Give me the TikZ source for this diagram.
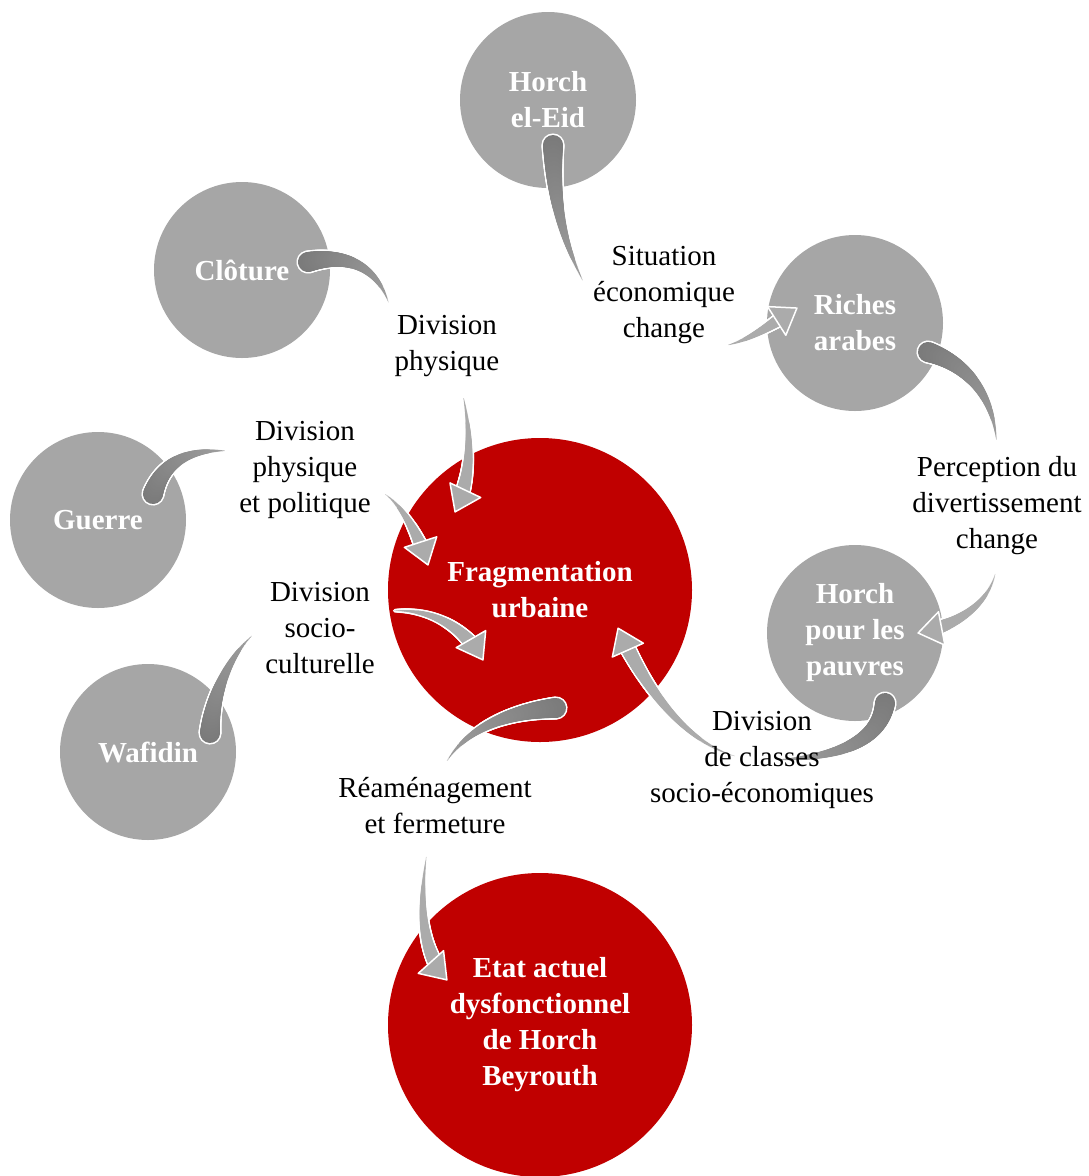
\documentclass[tikz,border=0pt]{standalone}
\usepackage{fontspec}
\setmainfont{Liberation Serif}
\usetikzlibrary{positioning,arrows.meta,decorations.markings}

\definecolor{bubgrey}{RGB}{166,166,166}
\definecolor{bubred}{RGB}{192,0,0}
\newcommand\bubfont{\fontsize{29}{36}\selectfont}

% one dot of a tapering shaft: #1 colour, #2 extra radius
\newcommand\taildot[2]{%
  \pgfmathsetmacro\fld{\pgfkeysvalueof{/pgf/decoration/mark info/distance from start}}%
  \pgfmathsetmacro\flt{\fld/\pgfdecoratedpathlength}%
  \pgfmathsetmacro\flrad{max(0,10*(1-\flt/0.92))}%
  \pgfmathsetmacro\flshade{52-16*\flt}%
  \ifdim\flrad pt>0.3pt
    \pgfmathsetmacro\flr{\flrad+#2}%
    \pgfpathcircle{\pgfpointorigin}{\flr pt}%
    \pgfsetfillcolor{#1}\pgfusepath{fill}%
  \fi}
\newcommand\headdot[2]{%
  \pgfmathsetmacro\fld{\pgfkeysvalueof{/pgf/decoration/mark info/distance from start}}%
  \pgfmathsetmacro\fll{\pgfdecoratedpathlength}%
  \pgfmathsetmacro\flrad{(\fld<\fll-20)*max(0,8*(\fld/\fll-0.1)/0.9)}%
  \ifdim\flrad pt>0.3pt
    \pgfmathsetmacro\flr{\flrad+#2}%
    \pgfpathcircle{\pgfpointorigin}{\flr pt}%
    \pgfsetfillcolor{#1}\pgfusepath{fill}%
  \fi}
% the head itself, apex on the end of the path
\newcommand\headtip{%
  \pgfpathmoveto{\pgfpoint{0pt}{0pt}}%
  \pgfpathlineto{\pgfpoint{-24pt}{17pt}}%
  \pgfpathlineto{\pgfpoint{-24pt}{-17pt}}%
  \pgfpathclose
  \pgfsetfillcolor{black!33}\pgfsetstrokecolor{white}\pgfsetlinewidth{1.5pt}%
  \pgfsetroundjoin
  \pgfusepath{fill,stroke}}

\pgfdeclarelayer{flow}
\pgfdeclarelayer{front}
\pgfsetlayers{main,flow,front}

\tikzset{
  greybub/.style={circle,fill=bubgrey,minimum size=176pt,inner sep=0pt,
    align=center,text=white,font=\bubfont\bfseries},
  redbub/.style={greybub,fill=bubred,minimum size=304pt},
  flowlabel/.style={align=center,font=\bubfont,inner sep=3pt},
  flowtail/.style={
    preaction={decorate,decoration={markings,
      mark=between positions 0 and 1 step 1pt with {\taildot{white}{1.6}}}},
    postaction={decorate,decoration={markings,
      mark=between positions 0 and 1 step 1pt with {\taildot{black!\flshade}{0}}}}},
  flowhead/.style={
    preaction={decorate,decoration={markings,
      mark=between positions 0 and 1 step 1pt with {\headdot{white}{1.6}}}},
    postaction={decorate,decoration={markings,
      mark=between positions 0 and 1 step 1pt with {\headdot{black!33}{0}}}},
    postaction={decorate,decoration={markings,
      mark=at position 0.999 with {\headtip}}}}
}

\begin{document}
\begin{tikzpicture}[x=1pt,y=1pt]
  \useasboundingbox (0,0) rectangle (1088,-1176);

  \node[greybub] (eid)     at (548,-100)  {Horch\\el-Eid};
  \node[greybub] (cloture) at (242,-270)  {Clôture};
  \node[greybub] (guerre)  at (98,-520)   {Guerre};
  \node[greybub] (wafidin) at (148,-752)  {Wafidin};
  \node[greybub] (riches)  at (855,-323)  {Riches\\arabes};
  \node[greybub] (pauvres) at (855,-633)  {Horch\\pour les\\pauvres};
  \node[redbub]  (frag)    at (540,-590)  {Fragmentation\\urbaine};
  \node[redbub]  (etat)    at (540,-1025) {Etat actuel\\dysfonctionnel\\de Horch\\Beyrouth};

  \begin{pgfonlayer}{front}
    \node[flowlabel] (situation) at (664,-295) {Situation\\économique\\change};
    \node[flowlabel] (physique)  at (447,-346) {Division\\physique};
    \node[flowlabel] (politique) at (305,-470) {Division\\physique\\et politique};
    \node[flowlabel] (culture)   at (320,-628) {Division\\socio-\\culturelle};
    \node[flowlabel] (classes)   at (762,-760) {Division\\de classes\\socio-économiques};
    \node[flowlabel] (loisir)    at (997,-506) {Perception du\\divertissement\\change};
    \node[flowlabel] (fermeture) at (435,-806) {Réaménagement\\et fermeture};
  \end{pgfonlayer}

  \begin{pgfonlayer}{flow}
    \path[flowtail] ([shift={(5,-45)}]eid.center) .. controls (553,-225) and (575,-265) .. (situation.west);
    \path[flowhead] (situation.-45) .. controls (745,-345) and (775,-322) .. ([shift={(-58,15)}]riches.center);

    \path[flowtail] ([shift={(66,8)}]cloture.center) .. controls (360,-250) and (385,-280) .. (physique.150);
    \path[flowhead] (physique.-70) .. controls (470,-420) and (475,-470) .. ([shift={(-85,78)}]frag.center);

    \path[flowtail] ([shift={(55,26)}]guerre.center) .. controls (165,-455) and (200,-448) .. (politique.165);
    \path[flowhead] (politique.-15) .. controls (395,-495) and (415,-525) .. ([shift={(-112,25)}]frag.center);

    \path[flowtail] ([shift={(62,19)}]wafidin.center) .. controls (212,-690) and (235,-645) .. (culture.west);
    \path[flowhead] (culture.15) .. controls (420,-605) and (460,-620) .. ([shift={(-57,-70)}]frag.center);

    \path[flowtail] ([shift={(30,-70)}]pauvres.center) .. controls (880,-740) and (840,-760) .. (classes.center);
    \path[flowhead] (classes.center) .. controls (700,-760) and (650,-700) .. ([shift={(78,-38)}]frag.center);

    \path[flowtail] ([shift={(73,-29)}]riches.center) .. controls (970,-365) and (997,-400) .. (loisir.north);
    \path[flowhead] (loisir.south) .. controls (997,-600) and (960,-625) .. ([shift={(63,0)}]pauvres.center);

    \path[flowtail] ([shift={(16,-118)}]frag.center) .. controls (500,-712) and (455,-735) .. (fermeture.80);
    \path[flowhead] (fermeture.-100) .. controls (418,-900) and (420,-950) .. ([shift={(-93,45)}]etat.center);
  \end{pgfonlayer}
\end{tikzpicture}
\end{document}
